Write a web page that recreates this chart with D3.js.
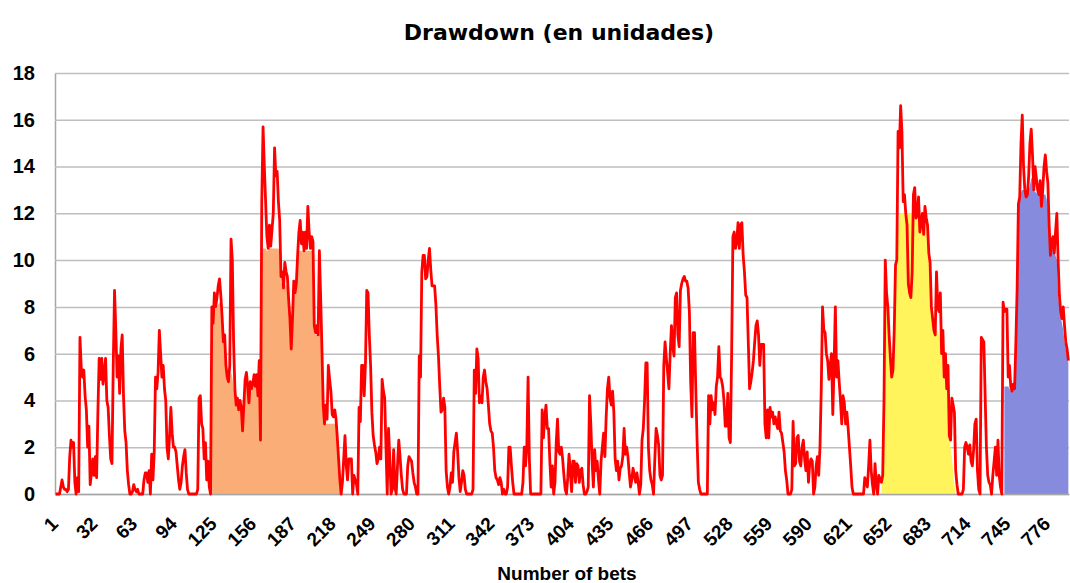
<!DOCTYPE html>
<html lang="es">
    <head>
        <meta charset="utf-8">
        <script type="text/javascript" src="https://cdn.jsdelivr.net/npm/d3@7/dist/d3.min.js"></script>
        <style type="text/css">
            body {
              margin: 0;
              background: #ffffff;
            }

            .grid line {
              stroke: #bfbfbf;
              stroke-width: 1.5;
            }

            .grid .domain {
              stroke: #a6a6a6;
              stroke-width: 1.5;
            }

            .tick text {
              font-family: "Liberation Sans", Arial, sans-serif;
              font-weight: bold;
              fill: #000000;
            }

            .drawdown {
              fill: none;
              stroke: #ff0000;
              stroke-width: 2.8;
              stroke-linejoin: round;
            }
        </style>
    </head>
    <body>
        <script type="text/javascript">
            // drawdown per bet (units), bet 1 .. 792
            var drawdown = [
              0,0,0,0,0.3,0.6,0.3,0.2,0.2,0.1,
              0.2,1.6,2.3,2.0,2.2,0.5,0,0.7,0.1,6.7,
              5.4,5.0,5.3,4.2,3.6,2.0,2.9,0.4,0.9,1.5,
              0.8,1.6,0.7,3.5,5.8,4.9,5.8,4.7,5.2,5.8,
              4.0,3.7,2.5,1.5,1.3,5.5,8.7,7.0,5.0,5.9,
              4.3,6.2,6.8,4.2,2.7,2.2,1.0,0.4,0,0,
              0.1,0.4,0.2,0.1,0.2,0,0,0,0,0.6,
              0.9,0.9,0.5,1.0,0,1.7,0.6,1.8,5.0,4.5,
              5.2,7.0,6.0,5.0,5.5,4.5,4.0,2.0,1.5,2.5,
              3.7,2.6,2.0,2.0,1.8,1.2,0.6,0.2,0.5,1.2,
              1.6,1.9,0.9,0.2,0,0,0,0,0,0,
              0,0.2,4.1,4.2,3.0,2.8,1.5,2.2,0.6,1.4,
              0.3,0,8.0,7.3,8.6,8.0,8.4,8.9,9.2,8.5,
              7.6,6.5,6.8,5.5,5.0,4.8,5.5,10.9,10.0,6.5,
              4.5,3.8,4.1,3.6,4.0,3.7,2.7,3.8,4.9,5.2,
              4.6,3.9,4.8,4.5,4.7,5.1,4.6,5.1,4.2,5.7,
              2.3,12.5,15.7,14.0,12.5,11.0,10.5,11.5,10.6,11.3,
              12.0,14.8,13.6,13.8,12.5,11.7,9.3,9.5,8.8,9.9,
              9.5,9.3,8.3,7.5,6.2,7.5,9.1,8.6,9.0,10.2,
              11.2,11.7,10.7,11.2,10.4,11.2,10.5,12.3,11.2,10.5,
              11.0,10.8,7.2,6.9,7.2,6.8,10.4,8.4,6.2,3.8,
              3.0,3.8,3.2,5.5,4.9,4.4,3.4,3.3,3.6,3.2,
              2.4,1.5,0.6,0,0.5,1.5,2.5,1.2,0.6,1.5,
              1.5,1.5,0,0.8,0.6,0.4,0,3.7,3.1,5.5,
              5.5,4.2,5.6,8.7,8.6,6.8,5.5,3.5,2.5,2.1,
              1.8,1.3,1.5,2.0,1.5,4.9,4.4,4.1,2.0,0,
              2.8,1.5,0,0.2,1.9,0.3,0,1.2,2.3,1.6,
              0.8,0.2,0,0,0,1.2,1.6,1.5,1.4,0.9,
              0.5,0.3,0,0,5.9,5.0,9.5,10.2,10.2,9.2,
              9.3,10.0,10.5,9.6,8.9,8.9,8.9,8.1,6.8,5.9,
              4.6,3.5,3.6,4.1,3.7,1.0,0.3,0,0.3,0.9,
              0.5,1.8,2.2,2.6,1.8,0.7,0.1,0.5,1.0,0.8,
              0.2,0,0,0,0,0,0.2,5.3,4.3,6.2,
              5.8,3.9,4.2,3.9,5.0,5.3,4.8,4.5,3.8,3.0,
              2.7,2.6,2.0,1.0,0.7,0.6,0.4,0.7,0.5,0,
              0.2,0,0,0.3,2.0,2.0,1.2,0.5,0,0,
              0,0,0,0,0,0.5,2.0,1.2,2.0,5.0,
              1.5,0,0,0,0,0,0,0,0,0,
              3.6,2.4,3.3,3.8,2.8,2.8,1.4,0.3,1.2,0,
              0.5,2.2,3.2,1.8,1.7,2.0,1.5,0.8,0.2,0,
              0.7,1.7,1.0,0.1,1.4,1.4,0.5,1.3,1.2,0.5,
              1.0,1.1,0.4,0,0,0.1,0.3,4.2,3.0,1.4,
              0.3,1.9,1.0,1.4,0.6,0,1.4,2.0,2.6,1.6,
              3.3,4.5,5.0,4.1,3.8,4.4,3.5,1.5,1.0,1.4,
              0.6,1.1,1.2,1.6,2.8,1.7,2.0,1.6,0.9,0.3,
              0.6,1.1,0.8,0.5,0.9,0.5,0,0.4,2.3,2.8,
              4.0,5.6,5.6,2.0,1.0,0.6,0.4,0,1.5,2.8,
              2.5,2.1,0.8,0.6,0.8,5.5,6.5,5.8,5.2,4.5,
              6.0,7.2,6.3,5.9,8.4,8.6,6.8,6.3,8.7,9.0,
              9.2,9.3,9.1,9.1,8.8,7.8,4.8,3.3,6.9,6.9,
              4.5,2.3,0.5,0.2,0,0,0,0,0,0,
              4.2,3.0,4.2,3.6,3.9,3.4,4.6,5.0,6.3,5.0,
              4.9,4.6,4.0,2.9,2.9,4.3,2.4,2.2,6.0,11.0,
              11.2,10.5,10.8,11.6,10.5,11.5,11.6,10.2,9.5,8.5,
              8.4,6.5,4.5,4.8,5.2,5.7,6.5,7.2,7.4,6.8,
              5.5,6.4,6.4,6.4,3.0,2.4,3.6,2.4,3.7,3.3,
              3.5,3.0,3.3,3.0,2.8,3.5,2.7,2.6,2.2,1.8,
              1.0,0.6,0,0,0,0.2,3.1,1.2,1.3,2.4,
              2.5,1.4,1.2,2.0,2.3,1.5,1.0,1.8,0.5,1.3,
              1.5,1.4,0,0.3,1.2,1.6,0.8,2.0,4.5,8.0,
              7.0,6.9,6.0,5.7,4.9,5.5,6.0,3.4,5.5,8.0,
              5.0,5.7,4.8,4.0,3.0,4.2,3.9,3.0,3.5,2.8,
              2.0,1.2,0.3,0,0,0,0,0,0,0,
              0,0,0.7,0.5,0.3,1.2,2.3,1.0,0.4,0,
              1.3,0.4,0,0.8,0.6,0.5,0.8,4.0,10.0,8.6,
              8.0,6.8,5.8,5.0,5.3,7.0,9.8,10.0,15.5,14.8,
              16.6,15.5,12.5,12.8,12.0,11.5,9.0,8.6,8.4,9.5,
              12.8,13.1,11.8,11.9,12.7,11.2,11.6,12.0,11.1,12.3,
              11.8,11.5,10.3,9.9,8.0,7.5,7.0,6.8,9.5,8.0,
              7.8,8.6,6.0,7.0,5.0,6.0,4.5,5.5,2.5,2.3,
              4.1,3.8,3.5,1.0,0.4,0,0,0,0,0.2,
              2.0,2.2,2.0,1.7,2.1,1.4,1.2,1.9,3.0,3.2,
              1.0,0.2,0,6.7,6.6,6.5,4.2,2.0,0.8,0.5,
              0.4,0,0.8,1.4,2.0,0.8,2.3,0.8,0.3,0,
              8.2,7.8,7.9,7.9,5.0,5.5,4.6,4.4,4.7,4.5,
              6.5,8.8,12.4,12.7,15.0,16.2,14.0,13.0,12.7,12.8,
              13.6,15.0,15.6,14.5,13.0,14.0,13.5,13.0,12.8,13.4,
              12.3,13.0,14.0,14.5,13.8,13.3,11.5,10.2,10.8,11.0,
              10.3,11.2,12.0,10.0,8.5,7.8,7.5,8.0,7.2,6.5,6.2,5.7
            ];

            // shaded periods: first bet of each and its area values
            var orangeFrom = 122;
            var orangeFill = [
              0,7.5,7.3,7.9,7.9,8.0,8.1,8.2,8.0,
              7.4,6.5,6.3,5.5,5.0,4.8,5.0,5.2,5.0,4.5,
              4.3,3.8,3.8,3.6,3.7,3.6,2.7,3.2,4.2,4.6,
              4.5,3.9,4.2,4.4,4.5,4.6,4.6,4.7,4.2,4.6,
              2.3,10.0,10.5,10.5,10.5,10.4,10.4,10.5,10.5,10.5,
              10.5,10.5,10.5,10.5,10.5,10.3,9.0,9.0,8.7,8.8,
              9.0,8.8,8.0,7.3,6.2,7.2,8.5,8.5,8.7,9.8,
              10.4,10.4,10.4,10.4,10.4,10.4,10.4,10.4,10.4,10.4,
              10.4,10.3,7.0,6.8,6.8,6.7,7.9,7.5,6.0,3.8,
              3.0,3.0,3.0,3.0,3.0,3.0,3.0,3.0,3.0,2.9,
              2.3,1.5,0.6,0
            ];

            var yellowFrom = 646;
            var yellowFill = [
              0.3,0.8,4.0,8.0,8.0,
              7.6,6.6,5.7,5.0,5.2,6.8,9.5,10.0,11.2,12.0,
              12.0,12.0,12.0,12.0,12.0,12.0,12.0,12.0,12.0,12.0,
              12.0,12.0,12.0,12.0,12.0,12.0,12.0,12.0,12.0,12.0,
              11.8,11.4,10.3,9.9,8.0,7.5,7.0,6.8,7.0,7.0,
              6.8,6.6,6.0,5.6,5.0,4.8,4.4,3.8,2.5,2.0,
              1.6,1.0,0.4,0
            ];

            var blueFrom = 742;
            var blueFill = [
              4.6,4.6,4.6,4.6,4.5,4.4,4.4,4.5,4.5,
              6.5,8.8,12.3,12.7,12.9,13.0,13.0,13.0,12.7,12.8,
              13.0,13.2,13.5,13.5,13.0,12.9,12.9,12.8,12.8,12.8,
              12.3,12.8,12.8,12.8,12.6,12.2,11.2,10.2,10.5,10.5,
              10.3,10.2,10.0,8.5,8.0,7.6,7.3,7.0,6.5,6.2,5.9,5.6
            ];

            var xTickLabels = [1, 32, 63, 94, 125, 156, 187, 218, 249, 280, 311, 342, 373,
                               404, 435, 466, 497, 528, 559, 590, 621, 652, 683, 714, 745, 776];
            var yTicks = [0, 2, 4, 6, 8, 10, 12, 14, 16, 18];

            var width = 1070, height = 583;
            var plotLeft = 55, plotRight = 1069, plotTop = 73, plotBottom = 494;

            var svg = d3.select("body")
              .append("svg")
              .attr("width", width)
              .attr("height", height);

            // one category per bet
            var bets = d3.range(1, drawdown.length + 1);
            var xScale = d3.scalePoint()
                           .domain(bets)
                           .range([plotLeft, plotRight])
                           .padding(0.5);
            var yScale = d3.scaleLinear()
                           .domain([0, 18])
                           .range([plotBottom, plotTop]);

            // horizontal gridlines + y labels
            svg.append("g")
              .attr("class", "grid")
              .attr("transform", "translate(" + plotLeft + ",0)")
              .call(d3.axisLeft(yScale)
                      .tickValues(yTicks)
                      .tickSize(-(plotRight - plotLeft))
                      .tickSizeOuter(0)
                      .tickPadding(20))
              .selectAll("text")
                .style("font-size", "20px");

            // shaded areas below the line
            function shade(from, values, colour) {
              var area = d3.area()
                .x(function(d, i) { return xScale(from + i); })
                .y0(yScale(0))
                .y1(function(d) { return yScale(d); });
              svg.append("path")
                .datum(values)
                .attr("d", area)
                .attr("fill", colour);
            }
            shade(orangeFrom, orangeFill, "#fbad78");
            shade(yellowFrom, yellowFill, "#fff45c");
            shade(blueFrom, blueFill, "#878bdd");

            // x axis with rotated labels
            svg.append("g")
              .attr("class", "grid")
              .attr("transform", "translate(0," + plotBottom + ")")
              .call(d3.axisBottom(xScale)
                      .tickValues(xTickLabels)
                      .tickSize(0)
                      .tickSizeOuter(0))
              .selectAll("text")
                .style("font-size", "19px")
                .style("text-anchor", "end")
                .attr("x", 0)
                .attr("y", 0)
                .attr("dy", 0)
                .attr("transform", "translate(3,31) rotate(-45)");

            // drawdown line
            var line = d3.line()
              .x(function(d, i) { return xScale(i + 1); })
              .y(function(d) { return yScale(d); });
            svg.append("path")
              .datum(drawdown)
              .attr("class", "drawdown")
              .attr("d", line);

            // titles
            svg.append("text")
              .attr("x", 559)
              .attr("y", 40)
              .attr("text-anchor", "middle")
              .style("font-family", "'DejaVu Sans', sans-serif")
              .style("font-weight", "bold")
              .style("font-size", "22px")
              .text("Drawdown (en unidades)");

            svg.append("text")
              .attr("x", 567)
              .attr("y", 580)
              .attr("text-anchor", "middle")
              .style("font-family", "'Liberation Sans', sans-serif")
              .style("font-weight", "bold")
              .style("font-size", "19px")
              .text("Number of bets");
        </script>
    </body>
</html>
